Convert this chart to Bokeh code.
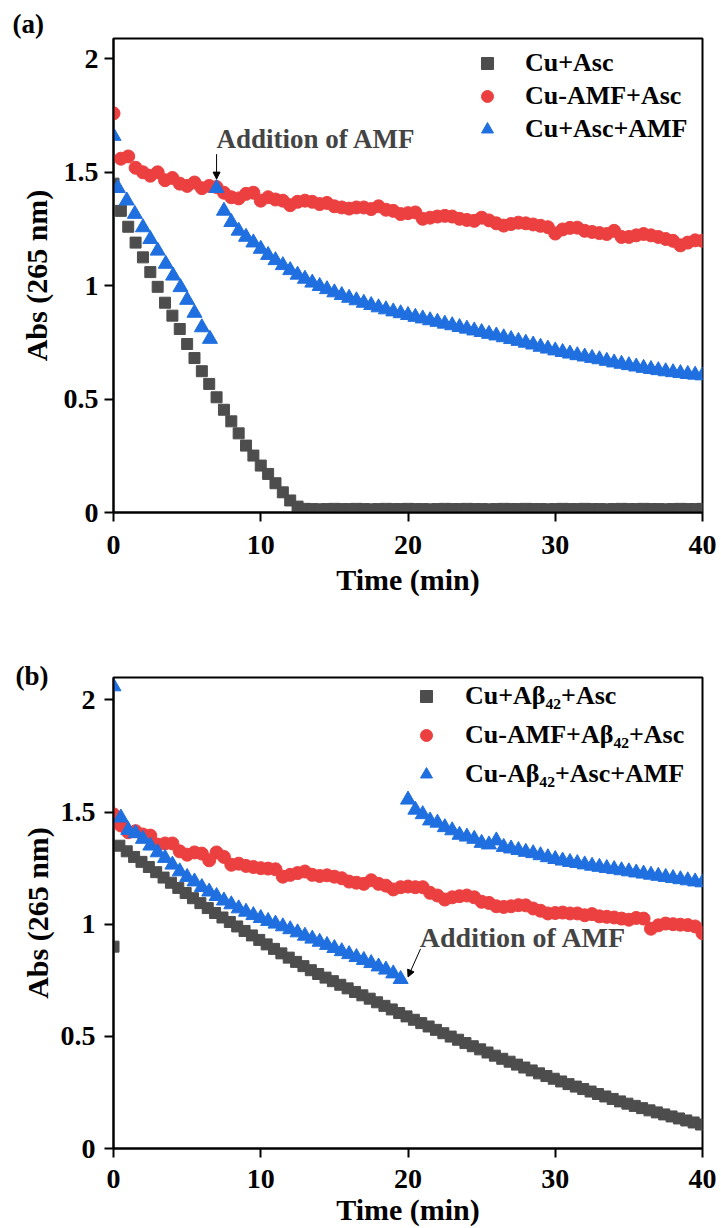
import numpy as np
from bokeh.plotting import figure
from bokeh.models import (Legend, LegendItem, Label, Arrow, NormalHead,
                          FixedTicker, Range1d)
from bokeh.layouts import column
from bokeh.embed import file_html
from bokeh.resources import INLINE

# ---------------- data: panel (a) ----------------
t_a = np.arange(0, 40.01, 0.5)  # sampling times (min), 81 points
grey_a = [1.45, 1.33, 1.26, 1.19, 1.125, 1.06, 0.995, 0.925, 0.868, 0.809,
          0.743, 0.681, 0.623, 0.567, 0.508, 0.453, 0.402, 0.349, 0.295, 0.251,
          0.207, 0.170, 0.129, 0.089, 0.053, 0.026, 0.016,
          0.015, 0.014, 0.015, 0.016, 0.015, 0.015, 0.016, 0.015, 0.014, 0.015,
          0.016, 0.015, 0.015, 0.016, 0.015, 0.015, 0.014, 0.015, 0.016, 0.015,
          0.015, 0.016, 0.015, 0.015, 0.014, 0.015, 0.016, 0.015, 0.015, 0.016,
          0.015, 0.015, 0.014, 0.015, 0.016, 0.015, 0.015, 0.016, 0.015, 0.015,
          0.014, 0.015, 0.016, 0.015, 0.015, 0.016, 0.015, 0.015, 0.014, 0.015,
          0.016, 0.015, 0.015, 0.016]
red_a = [1.76, 1.56, 1.57, 1.52, 1.50, 1.485, 1.50, 1.465, 1.475, 1.45,
         1.44, 1.455, 1.43, 1.44, 1.435, 1.41, 1.39, 1.385, 1.405, 1.41,
         1.375, 1.39, 1.38, 1.375, 1.355, 1.37, 1.375, 1.37, 1.36, 1.365,
         1.35, 1.345, 1.34, 1.345, 1.345, 1.338, 1.35, 1.335, 1.33, 1.316,
         1.32, 1.323, 1.295, 1.30, 1.305, 1.308, 1.305, 1.295, 1.29, 1.286,
         1.30, 1.288, 1.275, 1.265, 1.272, 1.278, 1.275, 1.27, 1.264, 1.258,
         1.23, 1.248, 1.255, 1.256, 1.242, 1.237, 1.232, 1.228, 1.242, 1.215,
         1.215, 1.222, 1.228, 1.222, 1.215, 1.206, 1.198, 1.178, 1.19, 1.20,
         1.198]
blue_a1_t = [0.0, 0.3, 0.9, 1.45, 2.0, 2.5, 3.0, 3.55, 4.05, 4.55, 5.0, 5.5, 6.0, 6.55]
blue_a1 = [1.66, 1.43, 1.375, 1.316, 1.257, 1.205, 1.154, 1.096, 1.044, 0.993,
           0.937, 0.88, 0.816, 0.765]
blue_a2_t = np.arange(7.0, 40.01, 0.5)
blue_a2 = [1.43, 1.33, 1.28, 1.242, 1.215, 1.19, 1.162, 1.135, 1.112, 1.09,
           1.068, 1.048, 1.03, 1.013, 0.998, 0.984, 0.97, 0.958, 0.946, 0.935,
           0.924, 0.914, 0.904, 0.895, 0.886, 0.878, 0.87, 0.862, 0.855, 0.847,
           0.84, 0.832, 0.825, 0.817, 0.81, 0.802, 0.795, 0.787, 0.78, 0.772,
           0.764, 0.756, 0.748, 0.74, 0.73, 0.722, 0.714, 0.707, 0.70, 0.693,
           0.687, 0.681, 0.675, 0.668, 0.661, 0.655, 0.649, 0.643, 0.637, 0.632,
           0.627, 0.622, 0.618, 0.614, 0.61, 0.607, 0.604]
legend_a = ["Cu+Asc", "Cu-AMF+Asc", "Cu+Asc+AMF"]

# ---------------- data: panel (b) ----------------
t_b_grey = np.concatenate([[0.0], np.arange(0.4, 40.0, 0.5)])
grey_b = [0.90,
          1.350, 1.325, 1.300, 1.278, 1.255, 1.232, 1.208, 1.185, 1.162, 1.139,
          1.116, 1.094, 1.072, 1.050, 1.030, 1.010, 0.990, 0.970, 0.950, 0.930,
          0.910, 0.890, 0.870, 0.851, 0.832, 0.813, 0.795, 0.778, 0.762, 0.746,
          0.730, 0.714, 0.698, 0.683, 0.668, 0.652, 0.636, 0.620, 0.604, 0.589,
          0.574, 0.559, 0.544, 0.529, 0.514, 0.499, 0.485, 0.470, 0.456, 0.442,
          0.428, 0.414, 0.400, 0.387, 0.374, 0.361, 0.348, 0.335, 0.323, 0.311,
          0.299, 0.287, 0.276, 0.265, 0.254, 0.243, 0.232, 0.221, 0.210, 0.200,
          0.190, 0.180, 0.170, 0.161, 0.152, 0.143, 0.134, 0.125, 0.116, 0.107]
t_b = np.arange(0, 40.01, 0.5)
red_b = [1.49, 1.44, 1.41, 1.415, 1.40, 1.395, 1.355, 1.36, 1.36, 1.325,
         1.31, 1.32, 1.315, 1.285, 1.32, 1.30, 1.265, 1.27, 1.26, 1.255,
         1.25, 1.248, 1.245, 1.212, 1.22, 1.228, 1.235, 1.22, 1.215, 1.218,
         1.212, 1.205, 1.19, 1.185, 1.18, 1.196, 1.18, 1.172, 1.155, 1.165,
         1.168, 1.165, 1.165, 1.14, 1.128, 1.11, 1.12, 1.125, 1.128, 1.12,
         1.10, 1.095, 1.08, 1.077, 1.08, 1.085, 1.084, 1.07, 1.06, 1.048,
         1.05, 1.052, 1.048, 1.048, 1.04, 1.045, 1.035, 1.033, 1.03, 1.025,
         1.02, 1.028, 1.025, 0.98, 0.995, 1.003, 1.0, 0.998, 0.996, 0.99,
         0.96]
blue_b1_t = np.concatenate([[0.0], np.arange(0.5, 19.51, 0.5)])
blue_b1 = [2.06,
           1.475, 1.42, 1.405, 1.38, 1.35, 1.32, 1.295, 1.265, 1.235, 1.21,
           1.19, 1.165, 1.145, 1.125, 1.105, 1.088, 1.07, 1.055, 1.04, 1.027,
           1.014, 1.002, 0.99, 0.977, 0.963, 0.948, 0.935, 0.921, 0.907, 0.893,
           0.879, 0.866, 0.853, 0.84, 0.826, 0.811, 0.797, 0.78, 0.755]
blue_b2_t = np.arange(20.0, 40.01, 0.5)
blue_b2 = [1.555, 1.51, 1.49, 1.462, 1.452, 1.432, 1.418, 1.398, 1.39, 1.38,
           1.362, 1.355, 1.373, 1.344, 1.337, 1.33, 1.322, 1.316, 1.307, 1.298,
           1.29, 1.283, 1.277, 1.272, 1.266, 1.26, 1.255, 1.25, 1.245, 1.24,
           1.235, 1.23, 1.225, 1.22, 1.215, 1.21, 1.205, 1.20, 1.195, 1.19,
           1.186]
legend_b = ["Cu+A\u03b2\u2084\u2082+Asc", "Cu-AMF+A\u03b2\u2084\u2082+Asc",
            "Cu-A\u03b2\u2084\u2082+Asc+AMF"]

x_ticks = [0, 10, 20, 30, 40]
y_ticks = [0, 0.5, 1, 1.5, 2]
y_tick_labels = ["0", "0.5", "1", "1.5", "2"]
x_title = "Time (min)"
y_title = "Abs (265 nm)"
annot = "Addition of AMF"
panel_labels = ["(a)", "(b)"]

FONT = "Liberation Serif"
GREY = "#4d4d4d"
RED = "#ec4040"
BLUE = "#1f6fe0"


def make_panel(H, L, T, B, ymax, xlab_stand, xstand, ystand, ystand_lab,
               tag, tag_offset, tag_standoff):
    p = figure(width=721, height=H, x_range=Range1d(0, 40), y_range=Range1d(0, ymax),
               output_backend="svg", toolbar_location=None,
               min_border_left=L, min_border_right=19, min_border_top=T,
               min_border_bottom=B)
    p.grid.visible = False
    p.outline_line_color = "black"
    p.outline_line_width = 2
    p.outline_line_alpha = 1
    for ax in (p.xaxis[0], p.yaxis[0]):
        ax.axis_line_width = 2
        ax.axis_line_color = "black"
        ax.major_tick_line_width = 2
        ax.major_tick_line_color = "black"
        ax.major_tick_out = 9
        ax.major_tick_in = 0
        ax.minor_tick_out = 0
        ax.minor_tick_in = 0
        ax.major_label_text_font = FONT
        ax.major_label_text_font_size = "28px"
        ax.major_label_text_font_style = "bold"
        ax.major_label_text_color = "black"
        ax.axis_label_text_font = FONT
        ax.axis_label_text_font_size = "30px"
        ax.axis_label_text_font_style = "bold"
        ax.axis_label_text_color = "black"
    p.xaxis.ticker = FixedTicker(ticks=x_ticks)
    p.yaxis.ticker = FixedTicker(ticks=y_ticks)
    p.yaxis.major_label_overrides = {v: s for v, s in zip(y_ticks, y_tick_labels)}
    p.xaxis.axis_label = x_title
    p.yaxis.axis_label = y_title
    p.xaxis.major_label_standoff = xlab_stand
    p.yaxis.major_label_standoff = ystand_lab
    p.xaxis.axis_label_standoff = xstand
    p.yaxis.axis_label_standoff = ystand
    # panel tag "(a)" / "(b)"
    p.title.text = tag
    p.title.align = "left"
    p.title.offset = tag_offset
    p.title.standoff = tag_standoff
    p.title.text_font = FONT
    p.title.text_font_size = "27px"
    p.title.text_font_style = "bold"
    p.title.text_color = "black"
    return p


def add_legend(p, renderers, labels, x, y, standoff, row_h):
    items = [LegendItem(label=lab, renderers=[r]) for lab, r in zip(labels, renderers)]
    lg = Legend(items=items, location=(x, y), label_text_font=FONT,
                label_text_font_size="26px", label_text_font_style="bold",
                label_text_color="black",
                background_fill_alpha=0, border_line_alpha=0,
                glyph_width=30, glyph_height=row_h, label_height=row_h,
                spacing=3, padding=0, margin=0, label_standoff=standoff)
    p.add_layout(lg)


# ---------------- panel (a) ----------------
pa = make_panel(613, 113, 38, 101, 2.09, 14, 6, 8, 6, panel_labels[0], -101, 0)
ra_g = pa.scatter(t_a, grey_a, marker="square", size=11, color=GREY)
ra_r = pa.scatter(t_a, red_a, marker="circle", size=13, color=RED)
ra_b = pa.scatter(blue_a1_t, blue_a1, marker="triangle", size=15, color=BLUE)
pa.scatter(blue_a2_t, blue_a2, marker="triangle", size=15, color=BLUE)
add_legend(pa, [ra_g, ra_r, ra_b], legend_a, 359, 368, 23, 30)
pa.add_layout(Label(x=blue_a2_t[0], y=1.645, text=annot, text_font=FONT,
                    text_font_size="27px", text_font_style="bold",
                    text_baseline="alphabetic", text_align="left"))
pa.add_layout(Arrow(end=NormalHead(size=7, fill_color="black", line_color="black"),
                    x_start=blue_a2_t[0], y_start=1.58,
                    x_end=blue_a2_t[0], y_end=blue_a2[0] + 0.04,
                    line_width=1, line_color="black"))

# ---------------- panel (b) ----------------
pb = make_panel(615, 110, 64, 79, 2.10, 12, 2, 4, 9, panel_labels[1], -98, -26)
rb_g = pb.scatter(t_b_grey, grey_b, marker="square", size=11, color=GREY)
rb_r = pb.scatter(t_b, red_b, marker="circle", size=13, color=RED)
rb_b = pb.scatter(blue_b1_t, blue_b1, marker="triangle", size=15, color=BLUE)
pb.scatter(blue_b2_t, blue_b2, marker="triangle", size=15, color=BLUE)
add_legend(pb, [rb_g, rb_r, rb_b], legend_b, 298, 356, 24, 36)
pb.add_layout(Label(x=20.8, y=0.94, text=annot, text_font=FONT,
                    text_font_size="28px", text_font_style="bold",
                    text_baseline="alphabetic", text_align="left"))
pb.add_layout(Arrow(end=NormalHead(size=7, fill_color="black", line_color="black"),
                    x_start=20.85, y_start=0.89,
                    x_end=blue_b1_t[-1] + 0.5, y_end=blue_b1[-1] + 0.01,
                    line_width=1, line_color="black"))

layout = column(pa, pb)
open("out.html", "w").write(file_html(layout, INLINE))
